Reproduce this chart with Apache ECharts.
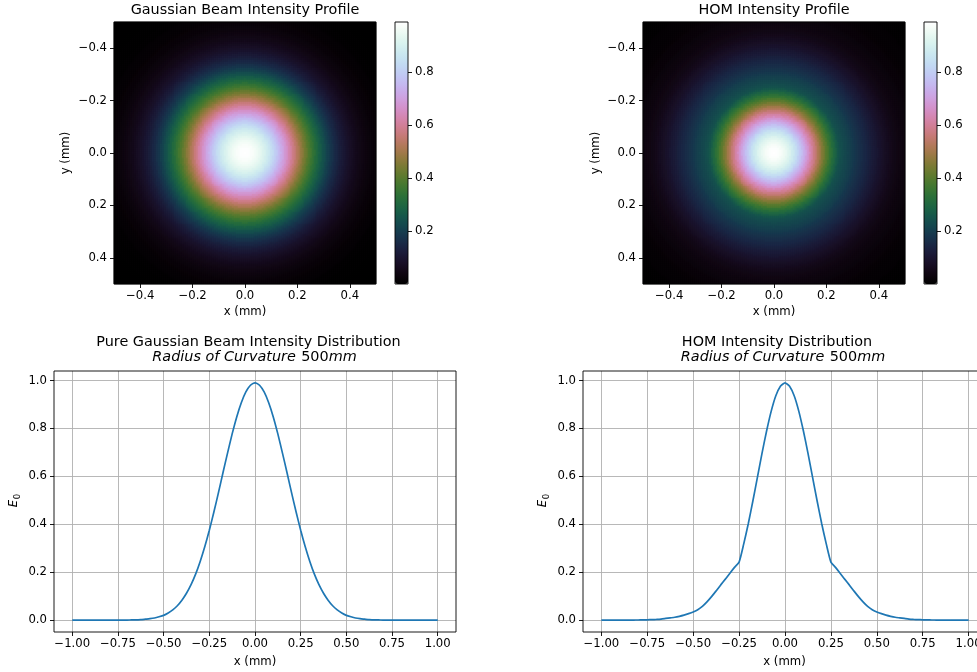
<!DOCTYPE html>
<html>
<head>
<meta charset="utf-8">
<script src="https://cdn.jsdelivr.net/npm/echarts@6/dist/echarts.min.js"></script>
<style>
  html, body { margin: 0; padding: 0; background: #ffffff; overflow: hidden; }
  /* the right-hand line panel runs past the page edge, so the canvas is wider than the window */
  #main { width: 1000px; height: 672px; }
</style>
</head>
<body>
<div id="main"></div>
<script>
// ---- Line profiles across the beam (x in mm, intensity normalised) ----
const xMm = [
  -1.000, -0.975, -0.950, -0.925, -0.900, -0.875, -0.850, -0.825, -0.800, -0.775,
  -0.750, -0.725, -0.700, -0.675, -0.650, -0.625, -0.600, -0.575, -0.550, -0.525,
  -0.500, -0.475, -0.450, -0.425, -0.400, -0.375, -0.350, -0.325, -0.300, -0.275,
  -0.250, -0.225, -0.200, -0.175, -0.150, -0.125, -0.100, -0.075, -0.050, -0.025,
   0.000,
   0.025,  0.050,  0.075,  0.100,  0.125,  0.150,  0.175,  0.200,  0.225,  0.250,
   0.275,  0.300,  0.325,  0.350,  0.375,  0.400,  0.425,  0.450,  0.475,  0.500,
   0.525,  0.550,  0.575,  0.600,  0.625,  0.650,  0.675,  0.700,  0.725,  0.750,
   0.775,  0.800,  0.825,  0.850,  0.875,  0.900,  0.925,  0.950,  0.975,  1.000
];

const gaussianLine = [
  0, 0, 0, 0, 0, 0, 0, 0, 0, 0,
  0, 0, 0.000, 0.001, 0.001, 0.002, 0.004, 0.006, 0.009, 0.014,
  0.020, 0.030, 0.043, 0.060, 0.083, 0.112, 0.148, 0.192, 0.245, 0.306,
  0.375, 0.451, 0.532, 0.616, 0.698, 0.777, 0.848, 0.907, 0.952, 0.980,
  0.990,
  0.980, 0.952, 0.907, 0.848, 0.777, 0.698, 0.616, 0.532, 0.451, 0.375,
  0.306, 0.245, 0.192, 0.148, 0.112, 0.083, 0.060, 0.043, 0.030, 0.020,
  0.014, 0.009, 0.006, 0.004, 0.002, 0.001, 0.001, 0.000, 0, 0,
  0, 0, 0, 0, 0, 0, 0, 0, 0, 0
];

const homLine = [
  0, 0, 0, 0, 0, 0.0001, 0.0002, 0.0004, 0.0006, 0.001,
  0.0015, 0.002, 0.003, 0.0045, 0.007, 0.0095, 0.012, 0.016, 0.021, 0.027,
  0.034, 0.043, 0.057, 0.076, 0.098, 0.122, 0.147, 0.171, 0.196, 0.220,
  0.242, 0.317, 0.402, 0.497, 0.597, 0.697, 0.790, 0.872, 0.936, 0.976,
  0.990,
  0.976, 0.936, 0.872, 0.790, 0.697, 0.597, 0.497, 0.402, 0.317, 0.242,
  0.220, 0.196, 0.171, 0.147, 0.122, 0.098, 0.076, 0.057, 0.043, 0.034,
  0.027, 0.021, 0.016, 0.012, 0.0095, 0.007, 0.0045, 0.003, 0.002, 0.0015,
  0.001, 0.0006, 0.0004, 0.0002, 0.0001, 0, 0, 0, 0, 0
];

// ---- Radial intensity of the 2-D profiles, sampled every 0.005 mm from r = 0 to 0.71 mm ----
const RADIAL_STEP_MM = 0.005;

const gaussianRadial = [
  0.990, 0.990, 0.988, 0.987, 0.984, 0.980, 0.976, 0.971, 0.966, 0.959,
  0.952, 0.945, 0.936, 0.927, 0.917, 0.907, 0.896, 0.884, 0.873, 0.861,
  0.848, 0.834, 0.820, 0.806, 0.792, 0.777, 0.762, 0.746, 0.730, 0.714,
  0.698, 0.682, 0.665, 0.649, 0.632, 0.616, 0.598, 0.582, 0.565, 0.549,
  0.532, 0.516, 0.499, 0.483, 0.467, 0.451, 0.435, 0.420, 0.405, 0.390,
  0.375, 0.361, 0.347, 0.333, 0.319, 0.306, 0.293, 0.281, 0.269, 0.257,
  0.245, 0.234, 0.223, 0.212, 0.202, 0.192, 0.183, 0.174, 0.165, 0.156,
  0.148, 0.140, 0.132, 0.125, 0.118, 0.112, 0.105, 0.099, 0.093, 0.088,
  0.083, 0.078, 0.073, 0.068, 0.064, 0.060, 0.056, 0.053, 0.049, 0.046,
  0.043, 0.040, 0.037, 0.035, 0.032, 0.030, 0.028, 0.026, 0.024, 0.022,
  0.020, 0.019, 0.018, 0.016, 0.015, 0.014, 0.013, 0.012, 0.011, 0.010,
  0.009, 0.008, 0.008, 0.007, 0.006, 0.006, 0.005, 0.005, 0.004, 0.004,
  0.004, 0.0034, 0.003, 0.0028, 0.0025, 0.0023, 0.002, 0.0019, 0.0017, 0.0016,
  0.0014, 0.0013, 0.0011, 0.0010, 0.0009, 0.0009, 0.0008, 0.0007, 0.0006, 0.0006,
  0.0005, 0.0004, 0.0004
];

const homRadial = [
  0.990, 0.989, 0.988, 0.985, 0.981, 0.976, 0.970, 0.963, 0.955, 0.946,
  0.936, 0.925, 0.913, 0.900, 0.887, 0.872, 0.857, 0.842, 0.825, 0.808,
  0.790, 0.773, 0.754, 0.735, 0.716, 0.697, 0.677, 0.657, 0.637, 0.617,
  0.597, 0.577, 0.556, 0.537, 0.517, 0.497, 0.478, 0.458, 0.440, 0.421,
  0.402, 0.385, 0.367, 0.350, 0.333, 0.317, 0.301, 0.286, 0.271, 0.257,
  0.242, 0.238, 0.233, 0.229, 0.224, 0.220, 0.215, 0.210, 0.205, 0.201,
  0.196, 0.191, 0.186, 0.181, 0.176, 0.171, 0.166, 0.162, 0.157, 0.152,
  0.147, 0.142, 0.137, 0.132, 0.127, 0.122, 0.117, 0.112, 0.107, 0.103,
  0.098, 0.094, 0.089, 0.085, 0.080, 0.076, 0.072, 0.068, 0.064, 0.061,
  0.057, 0.054, 0.051, 0.048, 0.045, 0.043, 0.041, 0.039, 0.037, 0.035,
  0.034, 0.033, 0.031, 0.030, 0.028, 0.027, 0.026, 0.024, 0.023, 0.022,
  0.021, 0.020, 0.019, 0.018, 0.017, 0.016, 0.015, 0.014, 0.013, 0.0125,
  0.012, 0.0115, 0.011, 0.0105, 0.010, 0.0095, 0.009, 0.0085, 0.008, 0.0075,
  0.007, 0.0065, 0.006, 0.0055, 0.005, 0.0045, 0.004, 0.004, 0.004, 0.0035,
  0.003, 0.003, 0.003
];

// ---- Tick labels ----
const imageTicks = [-0.4, -0.2, 0.0, 0.2, 0.4];
const colorbarTicks = [0.2, 0.4, 0.6, 0.8];
const lineXTicks = [-1.00, -0.75, -0.50, -0.25, 0.00, 0.25, 0.50, 0.75, 1.00];
const lineYTicks = [0.0, 0.2, 0.4, 0.6, 0.8, 1.0];

const titles = {
  gaussImage: 'Gaussian Beam Intensity Profile',
  homImage: 'HOM Intensity Profile',
  gaussLine: 'Pure Gaussian Beam Intensity Distribution',
  homLine: 'HOM Intensity Distribution',
  curvatureLabel: 'Radius of Curvature',
  curvatureValue: '500',
  curvatureUnit: 'mm'
};

const COLOR_MIN = 0.0;
const COLOR_MAX = 0.99;

// ---- cubehelix colour map (gamma 1, s 0.5, r -1.5, h 1) ----
function cubehelix(t) {
  const amp = t * (1 - t) / 2;
  const phi = 2 * Math.PI * (0.5 / 3 - 1.5 * t);
  const c = Math.cos(phi), s = Math.sin(phi);
  const clamp = v => Math.max(0, Math.min(1, v));
  const r = clamp(t + amp * (-0.14861 * c + 1.78277 * s));
  const g = clamp(t + amp * (-0.29227 * c - 0.90649 * s));
  const b = clamp(t + amp * (1.97294 * c));
  return 'rgb(' + Math.round(r * 255) + ',' + Math.round(g * 255) + ',' + Math.round(b * 255) + ')';
}
const cmap = [];
for (let i = 0; i < 256; i++) cmap.push(cubehelix(i / 255));

// ---- image grid: square cells covering -0.5 .. 0.5 mm in both directions ----
const N_CELLS = 131;
const cellIndex = [];
for (let i = 0; i < N_CELLS; i++) cellIndex.push(i);

function buildImage(radial) {
  const cells = [];
  for (let i = 0; i < N_CELLS; i++) {
    const x = -0.5 + (i + 0.5) / N_CELLS;
    for (let j = 0; j < N_CELLS; j++) {
      const y = -0.5 + (j + 0.5) / N_CELLS;
      const r = Math.sqrt(x * x + y * y);
      const k = Math.min(radial.length - 1, Math.round(r / RADIAL_STEP_MM));
      cells.push([i, j, radial[k]]);
    }
  }
  return cells;
}

const pairs = (xs, ys) => xs.map((x, i) => [x, ys[i]]);

// ---- styling helpers ----
const FONT = 'DejaVu Sans';
const TICK_FONT = 11.7;
const TITLE_FONT = 14.4;
const minus = (v, d) => (v < -1e-9 ? '\u2212' : '') + Math.abs(v).toFixed(d);

function tickAxis(dim, grid, min, max, ticks, digits, extra) {
  return Object.assign({
    type: 'value',
    gridIndex: grid,
    min: min,
    max: max,
    axisLine: { show: false, onZero: false },
    axisTick: {
      show: true, inside: false, length: 4,
      lineStyle: { color: '#000', width: 0.9 },
      customValues: ticks
    },
    axisLabel: {
      show: true, customValues: ticks,
      formatter: v => minus(v, digits),
      color: '#000', fontSize: TICK_FONT, fontFamily: FONT,
      margin: dim === 'x' ? 6 : 7,
      showMinLabel: true, showMaxLabel: true
    },
    splitLine: { show: false }
  }, extra || {});
}

function hiddenAxis(grid, extra) {
  return Object.assign({
    type: 'value', gridIndex: grid, show: false, min: 0, max: 1,
    axisLine: { onZero: false }, splitLine: { show: false }
  }, extra || {});
}

function catAxis(grid, extra) {
  return Object.assign({
    type: 'category', gridIndex: grid, show: false, data: cellIndex,
    boundaryGap: true, axisLine: { onZero: false }, splitLine: { show: false }
  }, extra || {});
}

const gridBox = (left, top, width, height) => ({
  left: left, top: top, width: width, height: height,
  show: true, backgroundColor: 'transparent',
  borderColor: '#000', borderWidth: 0.9, z: 5, containLabel: false
});

const gridLine = { show: true, lineStyle: { color: '#b0b0b0', width: 0.9 } };

const txt = (x, y, text, size, extra) => ({
  type: 'text', x: x, y: y, silent: true, z: 10,
  style: Object.assign({
    text: text, fill: '#000', font: size + 'px "' + FONT + '"',
    textAlign: 'center', textVerticalAlign: 'middle'
  }, extra || {})
});

const curvatureRich = (x, y) => ({
  type: 'text', x: x, y: y, silent: true, z: 10,
  style: {
    text: '{it|' + titles.curvatureLabel + '} {n|' + titles.curvatureValue + '}{it|' + titles.curvatureUnit + '}',
    textAlign: 'center', textVerticalAlign: 'middle',
    rich: {
      it: { fontStyle: 'italic', fontFamily: FONT, fontSize: TITLE_FONT, fill: '#000', color: '#000' },
      n: { fontFamily: FONT, fontSize: TITLE_FONT, fill: '#000', color: '#000', padding: [0, 0, 0, 2] }
    }
  }
});

const yLabelE = (left, midY) => [
  txt(left - 40, midY + 2, 'E', TICK_FONT, { font: 'italic ' + TICK_FONT + 'px "' + FONT + '"' }),
  txt(left - 36, midY - 5, '0', 8.5, {})
].map(e => Object.assign(e, { rotation: Math.PI / 2 }));

const chart = echarts.init(document.getElementById('main'), null, { renderer: 'canvas' });

const lineSeries = (axis, values) => ({
  type: 'line', xAxisIndex: axis, yAxisIndex: axis, data: pairs(xMm, values),
  showSymbol: false, smooth: 0.2, silent: true,
  lineStyle: { color: '#1f77b4', width: 1.7 }, itemStyle: { color: '#1f77b4' }
});

const option = {
  animation: false,
  textStyle: { fontFamily: FONT },
  grid: [
    gridBox(114, 22, 262, 262),   // 0 Gaussian image
    gridBox(395, 22, 13, 262),    // 1 Gaussian colour bar
    gridBox(643, 22, 262, 262),   // 2 HOM image
    gridBox(924, 22, 13, 262),    // 3 HOM colour bar
    gridBox(54, 371, 402, 261),   // 4 Gaussian line
    gridBox(583, 371, 404, 261)   // 5 HOM line
  ],
  xAxis: [
    catAxis(0),
    tickAxis('x', 0, -0.5, 0.5, imageTicks, 1, { position: 'bottom' }),
    hiddenAxis(1),
    catAxis(2),
    tickAxis('x', 2, -0.5, 0.5, imageTicks, 1, { position: 'bottom' }),
    hiddenAxis(3),
    tickAxis('x', 4, -1.1, 1.1, lineXTicks, 2, { position: 'bottom', splitLine: gridLine }),
    tickAxis('x', 5, -1.1, 1.1, lineXTicks, 2, { position: 'bottom', splitLine: gridLine })
  ],
  yAxis: [
    catAxis(0, { inverse: true }),
    tickAxis('y', 0, -0.5, 0.5, imageTicks, 1, { inverse: true, position: 'left' }),
    tickAxis('y', 1, COLOR_MIN, COLOR_MAX, colorbarTicks, 1, { position: 'right' }),
    catAxis(2, { inverse: true }),
    tickAxis('y', 2, -0.5, 0.5, imageTicks, 1, { inverse: true, position: 'left' }),
    tickAxis('y', 3, COLOR_MIN, COLOR_MAX, colorbarTicks, 1, { position: 'right' }),
    tickAxis('y', 4, -0.0495, 1.0395, lineYTicks, 1, { position: 'left', splitLine: gridLine }),
    tickAxis('y', 5, -0.0495, 1.0395, lineYTicks, 1, { position: 'left', splitLine: gridLine })
  ],
  visualMap: [
    {
      type: 'continuous', seriesIndex: 0, min: COLOR_MIN, max: COLOR_MAX,
      inRange: { color: cmap }, calculable: false, hoverLink: false, realtime: false,
      orient: 'vertical', left: 395, top: 22, itemWidth: 13, itemHeight: 262,
      padding: 0, text: null, showLabel: false
    },
    {
      type: 'continuous', seriesIndex: 1, min: COLOR_MIN, max: COLOR_MAX,
      inRange: { color: cmap }, calculable: false, hoverLink: false, realtime: false,
      orient: 'vertical', left: 924, top: 22, itemWidth: 13, itemHeight: 262,
      padding: 0, text: null, showLabel: false
    }
  ],
  series: [
    {
      type: 'heatmap', xAxisIndex: 0, yAxisIndex: 0, data: buildImage(gaussianRadial),
      progressive: 0, silent: true, itemStyle: { borderWidth: 0 }, emphasis: { disabled: true }
    },
    {
      type: 'heatmap', xAxisIndex: 3, yAxisIndex: 3, data: buildImage(homRadial),
      progressive: 0, silent: true, itemStyle: { borderWidth: 0 }, emphasis: { disabled: true }
    },
    lineSeries(6, gaussianLine),
    lineSeries(7, homLine)
  ],
  graphic: [
    txt(245, 10, titles.gaussImage, TITLE_FONT),
    txt(774, 10, titles.homImage, TITLE_FONT),
    txt(245, 312, 'x (mm)', TICK_FONT),
    txt(774, 312, 'x (mm)', TICK_FONT),
    Object.assign(txt(66, 153, 'y (mm)', TICK_FONT), { rotation: Math.PI / 2 }),
    Object.assign(txt(596, 153, 'y (mm)', TICK_FONT), { rotation: Math.PI / 2 }),
    txt(248.5, 342.5, titles.gaussLine, TITLE_FONT),
    curvatureRich(254.5, 357.5),
    txt(777, 342.5, titles.homLine, TITLE_FONT),
    curvatureRich(783, 357.5),
    txt(255, 661.5, 'x (mm)', TICK_FONT),
    txt(784.5, 661.5, 'x (mm)', TICK_FONT)
  ].concat(yLabelE(54, 501.5), yLabelE(583, 501.5))
};

chart.setOption(option);
</script>
</body>
</html>
